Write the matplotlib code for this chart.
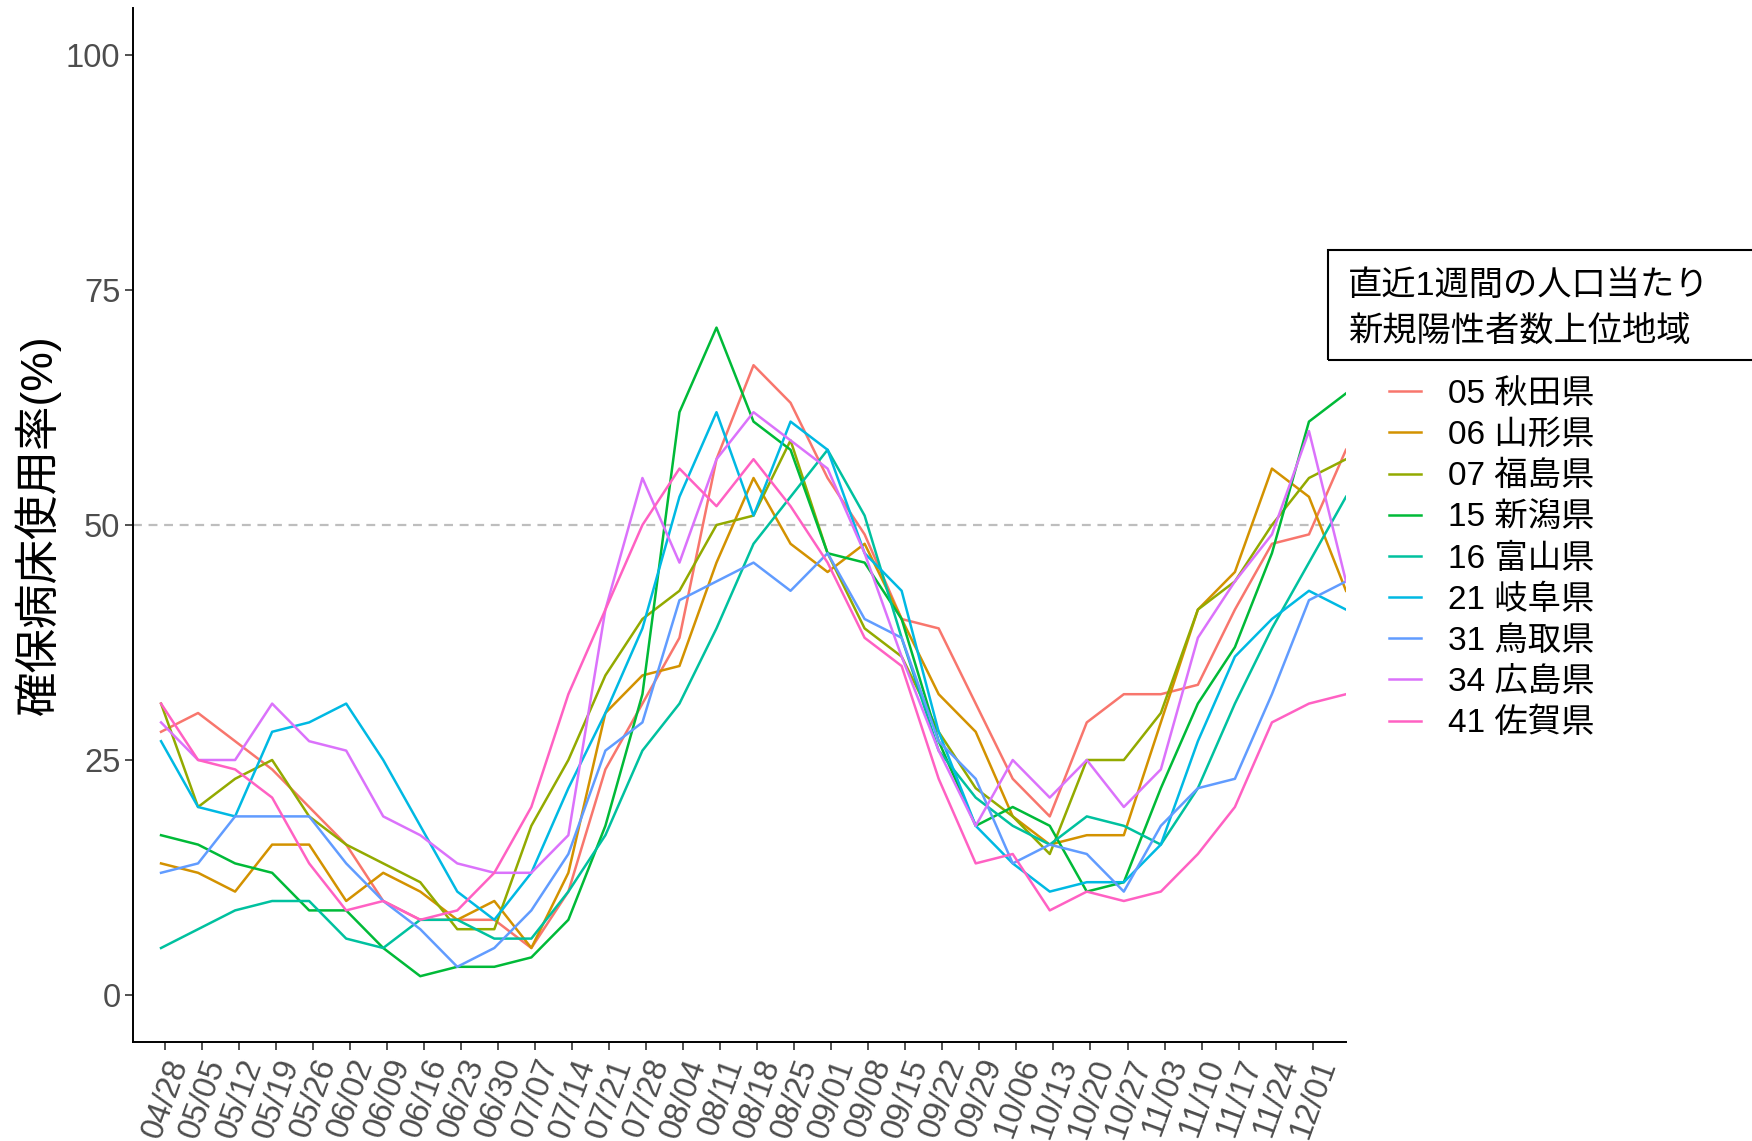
import numpy as np
import matplotlib.pyplot as plt
from matplotlib.patches import Rectangle

plt.rcParams['font.family'] = ['Liberation Sans', 'Noto Sans CJK JP']

# weekly tick labels (the last data week, 12/08, has no label)
tick_labels = ['04/28', '05/05', '05/12', '05/19', '05/26', '06/02', '06/09', '06/16',
               '06/23', '06/30', '07/07', '07/14', '07/21', '07/28', '08/04', '08/11',
               '08/18', '08/25', '09/01', '09/08', '09/15', '09/22', '09/29', '10/06',
               '10/13', '10/20', '10/27', '11/03', '11/10', '11/17', '11/24', '12/01']

names = ['05 秋田県', '06 山形県', '07 福島県', '15 新潟県', '16 富山県',
         '21 岐阜県', '31 鳥取県', '34 広島県', '41 佐賀県']
colors = ['#F8766D', '#D39200', '#93AA00', '#00BA38', '#00C19F',
          '#00B9E3', '#619CFF', '#DB72FB', '#FF61C3']

akita = [28, 30, 27, 24, 20, 16, 10, 8, 8, 8, 5, 11, 24, 31, 38, 57, 67, 63, 55, 49,
         40, 39, 31, 23, 19, 29, 32, 32, 33, 41, 48, 49, 58]
yamagata = [14, 13, 11, 16, 16, 10, 13, 11, 8, 10, 5, 13, 30, 34, 35, 46, 55, 48, 45, 48,
            40, 32, 28, 19, 16, 17, 17, 29, 41, 45, 56, 53, 43]
fukushima = [31, 20, 23, 25, 19, 16, 14, 12, 7, 7, 18, 25, 34, 40, 43, 50, 51, 59, 47, 39,
             36, 28, 22, 19, 15, 25, 25, 30, 41, 44, 50, 55, 57]
niigata = [17, 16, 14, 13, 9, 9, 5, 2, 3, 3, 4, 8, 18, 32, 62, 71, 61, 58, 47, 46,
           40, 27, 18, 20, 18, 11, 12, 22, 31, 37, 47, 61, 64]
toyama = [5, 7, 9, 10, 10, 6, 5, 8, 8, 6, 6, 11, 17, 26, 31, 39, 48, 53, 58, 51,
          38, 26, 21, 18, 16, 19, 18, 16, 22, 31, 39, 46, 53]
gifu = [27, 20, 19, 28, 29, 31, 25, 18, 11, 8, 13, 22, 30, 39, 53, 62, 51, 61, 58, 47,
        43, 28, 18, 14, 11, 12, 12, 16, 27, 36, 40, 43, 41]
tottori = [13, 14, 19, 19, 19, 14, 10, 7, 3, 5, 9, 15, 26, 29, 42, 44, 46, 43, 47, 40,
           38, 27, 23, 14, 16, 15, 11, 18, 22, 23, 32, 42, 44]
hiroshima = [29, 25, 25, 31, 27, 26, 19, 17, 14, 13, 13, 17, 41, 55, 46, 57, 62, 59, 56, 47,
             36, 26, 18, 25, 21, 25, 20, 24, 38, 44, 49, 60, 44]
saga = [31, 25, 24, 21, 14, 9, 10, 8, 9, 13, 20, 32, 41, 50, 56, 52, 57, 52, 46, 38,
        35, 23, 14, 15, 9, 11, 10, 11, 15, 20, 29, 31, 32]

series = [akita, yamagata, fukushima, niigata, toyama, gifu, tottori, hiroshima, saga]

W, H = 1752, 1141
fig = plt.figure(figsize=(W / 100, H / 100), dpi=100)
ax = fig.add_axes([133 / W, 99 / H, (1346 - 133) / W, (1133 - 99) / H])

days = np.arange(len(akita)) * 7
for vals, name, col in zip(series, names, colors):
    ax.plot(days, vals, color=col, linewidth=1.8, label=name)

ax.axhline(50, color='#BEBEBE', linestyle=(0, (4, 3)), linewidth=1.6, zorder=0)

ax.set_xlim(-5.3, days[-1])
ax.set_ylim(-5, 105)
ax.set_yticks([0, 25, 50, 75, 100])
ax.set_xticks(np.arange(len(tick_labels)) * 7 + 0.7)
ax.set_xticklabels(tick_labels, rotation=70, ha='right', va='top',
                   rotation_mode='anchor')

for side in ['top', 'right']:
    ax.spines[side].set_visible(False)
for side in ['left', 'bottom']:
    ax.spines[side].set_linewidth(1.4)
ax.tick_params(axis='both', labelsize=23.5, labelcolor='#4D4D4D', color='#333333',
               length=6, width=1.2, pad=3)

fig.text(38 / W, 1 - 525 / H, '確保病床使用率(%)', rotation=90, fontsize=32,
         ha='center', va='center')

# legend title in a box
fig.add_artist(Rectangle((1327.6 / W, 1 - 360 / H), 0.3, 110 / H,
                         transform=fig.transFigure, fill=False,
                         edgecolor='black', linewidth=1.5, clip_on=False))
fig.text(1348 / W, 1 - 286 / H, '直近1週間の人口当たり', fontsize=24.7, va='center')
fig.text(1348 / W, 1 - 332 / H, '新規陽性者数上位地域', fontsize=24.7, va='center')

ax.legend(loc='upper left', bbox_to_anchor=(1389 / W, 1 - 379 / H),
          bbox_transform=fig.transFigure, frameon=False, fontsize=24,
          handlelength=0.96, handletextpad=0.8, labelspacing=0.3,
          borderpad=0, borderaxespad=0)

fig.savefig('out.png', dpi=100)
